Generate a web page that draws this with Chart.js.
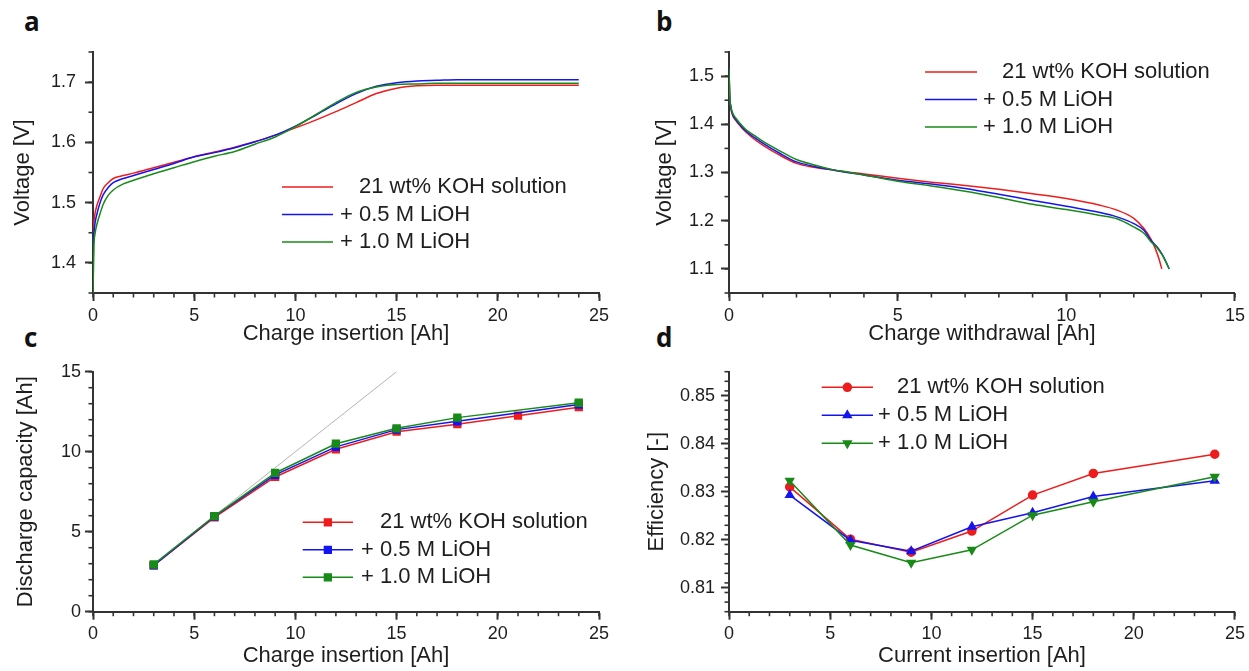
<!DOCTYPE html>
<html><head><meta charset="utf-8">
<script src="https://cdn.jsdelivr.net/npm/chart.js@4.4.1/dist/chart.umd.min.js"></script>
<style>
html,body{margin:0;padding:0;background:#fff;}
body{width:1249px;height:671px;position:relative;overflow:hidden;}
canvas{position:absolute;}
.pl{position:absolute;font:bold 26px "Open Sans",sans-serif;line-height:26px;color:#111;}
</style></head><body>
<div class="pl" style="left:24px;top:8px">a</div>
<div class="pl" style="left:656px;top:8px">b</div>
<div class="pl" style="left:24px;top:324px">c</div>
<div class="pl" style="left:656px;top:324px">d</div>
<canvas id="ca" width="625" height="350" style="left:0;top:0"></canvas>
<canvas id="cb" width="624" height="350" style="left:625px;top:0"></canvas>
<canvas id="cc" width="625" height="321" style="left:0;top:350px"></canvas>
<canvas id="cd" width="624" height="321" style="left:625px;top:350px"></canvas>
<script>
// ---------- data ----------
const seriesLabels = ['21 wt% KOH solution', '+ 0.5 M LiOH', '+ 1.0 M LiOH'];

// Panel a: charge curves
const aX = [0, 0.05, 0.1, 0.2, 0.35, 0.5, 0.75, 1, 1.5, 2, 3, 4, 5, 6, 7, 8, 9, 10, 11, 12, 13, 14, 15, 16, 17, 18, 20, 22, 24];
const aRed   = [1.45, 1.47, 1.482, 1.496, 1.51, 1.523, 1.533, 1.54, 1.545, 1.549, 1.558, 1.567, 1.576, 1.584, 1.592, 1.601, 1.612, 1.624, 1.637, 1.651, 1.666, 1.681, 1.690, 1.694, 1.695, 1.695, 1.695, 1.695, 1.695];
const aBlue  = [1.42, 1.45, 1.466, 1.482, 1.500, 1.513, 1.525, 1.533, 1.540, 1.545, 1.555, 1.565, 1.576, 1.583, 1.591, 1.601, 1.612, 1.627, 1.645, 1.664, 1.681, 1.693, 1.699, 1.702, 1.703, 1.704, 1.704, 1.704, 1.704];
const aGreen = [1.35, 1.43, 1.448, 1.465, 1.482, 1.497, 1.512, 1.521, 1.531, 1.537, 1.548, 1.558, 1.568, 1.577, 1.585, 1.597, 1.609, 1.626, 1.646, 1.666, 1.683, 1.692, 1.696, 1.697, 1.698, 1.698, 1.698, 1.698, 1.698];

// Panel b: discharge curves
const bXRed = [0, 0.02, 0.05, 0.1, 0.2, 0.35, 0.5, 0.75, 1, 1.5, 2, 2.5, 3, 3.5, 4, 5, 6, 7, 8, 9, 10, 11, 11.5, 12, 12.3, 12.5, 12.65, 12.75, 12.83];
const bRed  = [1.515, 1.46, 1.435, 1.42, 1.408, 1.395, 1.384, 1.369, 1.357, 1.336, 1.319, 1.311, 1.306, 1.301, 1.297, 1.288, 1.28, 1.273, 1.265, 1.256, 1.246, 1.232, 1.222, 1.205, 1.184, 1.163, 1.14, 1.12, 1.10];
const bXLi  = [0, 0.02, 0.05, 0.1, 0.2, 0.35, 0.5, 0.75, 1, 1.5, 2, 2.5, 3, 3.5, 4, 5, 6, 7, 8, 9, 10, 11, 11.5, 12, 12.3, 12.5, 12.7, 12.85, 12.95, 13.05];
const bBlue  = [1.515, 1.46, 1.437, 1.422, 1.41, 1.397, 1.386, 1.373, 1.361, 1.34, 1.322, 1.313, 1.306, 1.300, 1.295, 1.284, 1.276, 1.267, 1.255, 1.242, 1.23, 1.217, 1.208, 1.194, 1.18, 1.16, 1.145, 1.129, 1.115, 1.10];
const bGreen = [1.515, 1.46, 1.44, 1.425, 1.413, 1.40, 1.389, 1.377, 1.365, 1.345, 1.327, 1.316, 1.307, 1.301, 1.295, 1.282, 1.272, 1.261, 1.248, 1.234, 1.223, 1.211, 1.204, 1.187, 1.174, 1.157, 1.143, 1.128, 1.115, 1.10];

// Panel c: discharge capacity vs charge insertion
const cX = [3, 6, 9, 12, 15, 18, 21, 24];
const cRed   = [2.9, 5.9, 8.42, 10.15, 11.25, 11.72, 12.25, 12.78];
const cBlue  = [2.9, 5.95, 8.55, 10.3, 11.38, 11.9, null, 12.95];
const cGreen = [2.95, 5.98, 8.67, 10.5, 11.46, 12.13, null, 13.06];
const cIdentityX = [3, 15];
const cIdentityY = [3, 15];

// Panel d: efficiency vs current insertion
const dX = [3, 6, 9, 12, 15, 18, 24];
const dRed   = [0.8310, 0.8201, 0.8174, 0.8218, 0.8293, 0.8338, 0.8378];
const dBlue  = [0.8293, 0.8199, 0.8176, 0.8227, 0.8256, 0.8290, 0.8323];
const dGreen = [0.8323, 0.8189, 0.8152, 0.8179, 0.8251, 0.8279, 0.8331];

// tick labels
const ticksX25 = [0, 5, 10, 15, 20, 25];
const ticksX15 = [0, 5, 10, 15];
const ticksYa = [1.4, 1.5, 1.6, 1.7];
const ticksYb = [1.1, 1.2, 1.3, 1.4, 1.5];
const ticksYc = [0, 5, 10, 15];
const ticksYd = [0.81, 0.82, 0.83, 0.84, 0.85];

// ---------- styling / helpers ----------
const RED = '#ee1c1c', BLUE = '#1414f0', GREEN = '#188a18';
const INK = '#1e1e1e', AXIS = '#333333';
const FONT = '"Liberation Sans", Arial, sans-serif';
Chart.defaults.font.family = FONT;
Chart.defaults.color = INK;

const pts = (xs, ys) => xs.map((x, i) => ({x: x, y: ys[i]}));

const minorTicks = {
  id: 'minorTicks',
  afterDraw(chart) {
    const ctx = chart.ctx, ca = chart.chartArea;
    ctx.save(); ctx.strokeStyle = AXIS; ctx.lineWidth = 1.6;
    Object.values(chart.scales).forEach(s => {
      const step = s.options.minorStep; if (!step) return;
      const n = Math.round((s.max - s.min) / step);
      for (let i = 0; i <= n; i++) {
        const p = s.getPixelForValue(s.min + i * step);
        ctx.beginPath();
        if (s.isHorizontal()) { ctx.moveTo(p, ca.bottom); ctx.lineTo(p, ca.bottom + 4.5); }
        else { ctx.moveTo(ca.left, p); ctx.lineTo(ca.left - 4.5, p); }
        ctx.stroke();
      }
    });
    ctx.restore();
  }
};

const insideLegend = {
  id: 'insideLegend',
  afterDatasetsDraw(chart, args, o) {
    if (!o || o.x === undefined) return;
    const ctx = chart.ctx;
    ctx.save();
    ctx.font = '22px ' + FONT;
    ctx.textBaseline = 'middle'; ctx.textAlign = 'left';
    const plusW = ctx.measureText('+ ').width;
    let row = 0;
    chart.data.datasets.forEach(ds => {
      if (ds.noLegend) return;
      const y = o.y + row * o.rowH;
      ctx.strokeStyle = ds.borderColor; ctx.fillStyle = ds.borderColor; ctx.lineWidth = ds.borderWidth;
      ctx.beginPath(); ctx.moveTo(o.x, y); ctx.lineTo(o.x + o.len, y); ctx.stroke();
      if (ds.pointRadius > 0) {
        Chart.helpers.drawPoint(ctx, {pointStyle: ds.pointStyle, radius: ds.pointRadius, rotation: ds.pointRotation || 0, borderWidth: 1}, o.x + o.len / 2, y);
      }
      ctx.fillStyle = INK;
      const t = ds.label;
      ctx.fillText(t, o.x + o.len + o.gap + (t.charAt(0) === '+' ? 0 : plusW), y);
      row++;
    });
    ctx.restore();
  }
};

function axis(opt) {
  return {
    type: 'linear', position: opt.pos, min: opt.min, max: opt.max,
    minorStep: opt.minor,
    afterBuildTicks: s => { s.ticks = opt.ticks.map(v => ({value: v})); },
    afterFit: s => { if (opt.pos === 'left') s.width = opt.size; else s.height = opt.size; },
    border: {display: true, color: AXIS, width: 2},
    grid: {display: true, drawOnChartArea: false, drawTicks: true, tickLength: 8, tickWidth: 2, tickColor: AXIS},
    ticks: {autoSkip: false, maxRotation: 0, padding: opt.tpad, font: {size: 18}, color: INK,
      callback: v => opt.dec ? Number(v).toFixed(opt.dec) : String(v)},
    title: {display: true, text: opt.title, font: {size: 22}, color: INK, padding: opt.titlePad}
  };
}

function lineDs(label, data, color, extra) {
  return Object.assign({label: label, data: data, borderColor: color, backgroundColor: color,
    borderWidth: 1.5, pointRadius: 0, tension: 0, fill: false}, extra || {});
}

function makeChart(id, datasets, xs, ys, pad, legendOpts) {
  return new Chart(document.getElementById(id), {
    type: 'line',
    data: {datasets: datasets},
    options: {
      responsive: false, animation: false, devicePixelRatio: 1,
      layout: {padding: pad},
      parsing: true, spanGaps: true,
      plugins: {legend: {display: false}, tooltip: {enabled: false}, insideLegend: legendOpts},
      scales: {x: xs, y: ys}
    },
    plugins: [minorTicks, insideLegend]
  });
}

const smooth = {cubicInterpolationMode: 'monotone'};

// ---------- panel a ----------
makeChart('ca', [
  lineDs(seriesLabels[0], pts(aX, aRed), RED, Object.assign({order: 2}, smooth)),
  lineDs(seriesLabels[1], pts(aX, aBlue), BLUE, Object.assign({order: 1}, smooth)),
  lineDs(seriesLabels[2], pts(aX, aGreen), GREEN, Object.assign({order: 0}, smooth))
],
axis({pos: 'bottom', min: 0, max: 25, minor: 1, ticks: ticksX25, size: 57, tpad: 4, title: 'Charge insertion [Ah]', titlePad: {top: 0, bottom: 3}}),
axis({pos: 'left', min: 1.35, max: 1.75, minor: 0.05, ticks: ticksYa, size: 93, tpad: 9, dec: 1, title: 'Voltage [V]', titlePad: {top: 10, bottom: 0}}),
{top: 52, right: 26, bottom: 0, left: 0},
{x: 282, y: 187, rowH: 27.5, len: 51, gap: 7});

// ---------- panel b ----------
makeChart('cb', [
  lineDs(seriesLabels[0], pts(bXRed, bRed), RED, Object.assign({order: 2}, smooth)),
  lineDs(seriesLabels[1], pts(bXLi, bBlue), BLUE, Object.assign({order: 1}, smooth)),
  lineDs(seriesLabels[2], pts(bXLi, bGreen), GREEN, Object.assign({order: 0}, smooth))
],
axis({pos: 'bottom', min: 0, max: 15, minor: 1, ticks: ticksX15, size: 57, tpad: 4, title: 'Charge withdrawal [Ah]', titlePad: {top: 0, bottom: 3}}),
axis({pos: 'left', min: 1.05, max: 1.55, minor: 0.05, ticks: ticksYb, size: 104, tpad: 7, dec: 1, title: 'Voltage [V]', titlePad: {top: 27, bottom: 0}}),
{top: 52, right: 14, bottom: 0, left: 0},
{x: 300, y: 72, rowH: 27.5, len: 52, gap: 6});

// ---------- panel c ----------
makeChart('cc', [
  lineDs('identity', pts(cIdentityX, cIdentityY), '#b4b4b4', {borderWidth: 1, noLegend: true, order: 3}),
  lineDs(seriesLabels[0], pts(cX, cRed), RED, {pointRadius: 4.8, pointStyle: 'rect', order: 2}),
  lineDs(seriesLabels[1], pts(cX, cBlue), BLUE, {pointRadius: 4.8, pointStyle: 'rect', order: 1}),
  lineDs(seriesLabels[2], pts(cX, cGreen), GREEN, {pointRadius: 4.8, pointStyle: 'rect', order: 0})
],
axis({pos: 'bottom', min: 0, max: 25, minor: 1, ticks: ticksX25, size: 59.3, tpad: 4, title: 'Charge insertion [Ah]', titlePad: {top: 0, bottom: 2}}),
axis({pos: 'left', min: 0, max: 15, minor: 1, ticks: ticksYc, size: 93, tpad: 4, title: 'Discharge capacity [Ah]', titlePad: {top: 13, bottom: 0}}),
{top: 21.7, right: 26, bottom: 0, left: 0},
{x: 302.7, y: 172.3, rowH: 27.5, len: 50.3, gap: 8});

// ---------- panel d ----------
makeChart('cd', [
  lineDs(seriesLabels[0], pts(dX, dRed), RED, {pointRadius: 4, pointStyle: 'circle', order: 2}),
  lineDs(seriesLabels[1], pts(dX, dBlue), BLUE, {pointRadius: 4.5, pointStyle: 'triangle', order: 1}),
  lineDs(seriesLabels[2], pts(dX, dGreen), GREEN, {pointRadius: 4.5, pointStyle: 'triangle', pointRotation: 180, order: 0})
],
axis({pos: 'bottom', min: 0, max: 25, minor: 1, ticks: ticksX25, size: 59.3, tpad: 4, title: 'Current insertion [Ah]', titlePad: {top: 0, bottom: 2}}),
axis({pos: 'left', min: 0.805, max: 0.855, minor: 0.002, ticks: ticksYd, size: 104, tpad: 6, dec: 2, title: 'Efficiency [-]', titlePad: {top: 19, bottom: 0}}),
{top: 21.7, right: 14, bottom: 0, left: 0},
{x: 196.7, y: 37.3, rowH: 28, len: 51.3, gap: 5});
</script>
</body></html>
